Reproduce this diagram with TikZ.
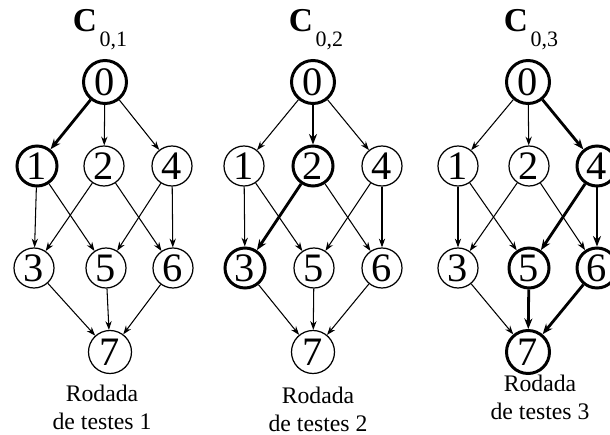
\documentclass[tikz,border=0pt]{standalone}
\usepackage{fontspec}
\setmainfont{Liberation Serif}
\usetikzlibrary{arrows.meta}

\begin{document}
\begin{tikzpicture}[
		vertice/.style={draw, circle, line width=0.7pt, inner sep=0pt, minimum size=0.8cm, font=\fontsize{23}{23}\selectfont},
		grande/.style={minimum size=0.86cm},
		marcado/.style={line width=1.7pt},
		aresta/.style={line width=0.6pt, -{Stealth[length=5pt, width=3.6pt]}},
		caminho/.style={line width=1.6pt, -{Stealth[length=6pt, width=4.6pt]}},
		titulo/.style={anchor=base, inner sep=0pt},
		rotulo/.style={anchor=north, inner sep=0pt, align=center, font=\fontsize{13.5}{15.5}\selectfont}]
		\clip (0,0) rectangle (12.2,8.68);
		% Rodada de testes 1
		\node[titulo] (ta) at (2.00,8.05) {\fontsize{19}{19}\selectfont\bfseries C\kern1.5pt\raisebox{-8.5pt}{\fontsize{12.5}{12.5}\mdseries 0,1}};
		\node[vertice, grande, marcado] (a0) at (2.10,7.04) {0};
		\node[vertice, marcado] (a1) at (0.74,5.36) {1};
		\node[vertice] (a2) at (2.08,5.36) {2};
		\node[vertice] (a4) at (3.44,5.36) {4};
		\node[vertice] (a3) at (0.68,3.32) {3};
		\node[vertice] (a5) at (2.12,3.32) {5};
		\node[vertice] (a6) at (3.46,3.32) {6};
		\node[vertice, grande] (a7) at (2.20,1.64) {7};
		\draw[caminho] (a0) -- (a1);
		\draw[aresta] (a0) -- (a2);
		\draw[aresta] (a0) -- (a4);
		\draw[aresta] (a1) -- (a3);
		\draw[aresta] (a1) -- (a5);
		\draw[aresta] (a2) -- (a3);
		\draw[aresta] (a2) -- (a6);
		\draw[aresta] (a4) -- (a5);
		\draw[aresta] (a4) -- (a6);
		\draw[aresta] (a3) -- (a7);
		\draw[aresta] (a5) -- (a7);
		\draw[aresta] (a6) -- (a7);
		\node[rotulo] (ra) at (2.04,0.98) {Rodada\\de testes 1};
		% Rodada de testes 2
		\node[titulo] (tb) at (6.32,8.05) {\fontsize{19}{19}\selectfont\bfseries C\kern1.5pt\raisebox{-8.5pt}{\fontsize{12.5}{12.5}\mdseries 0,2}};
		\node[vertice, grande, marcado] (b0) at (6.26,7.04) {0};
		\node[vertice] (b1) at (4.88,5.36) {1};
		\node[vertice, marcado] (b2) at (6.26,5.36) {2};
		\node[vertice] (b4) at (7.64,5.36) {4};
		\node[vertice, marcado] (b3) at (4.90,3.32) {3};
		\node[vertice] (b5) at (6.28,3.32) {5};
		\node[vertice] (b6) at (7.64,3.32) {6};
		\node[vertice, grande] (b7) at (6.26,1.64) {7};
		\draw[aresta] (b0) -- (b1);
		\draw[caminho] (b0) -- (b2);
		\draw[aresta] (b0) -- (b4);
		\draw[aresta] (b1) -- (b3);
		\draw[aresta] (b1) -- (b5);
		\draw[caminho] (b2) -- (b3);
		\draw[aresta] (b2) -- (b6);
		\draw[aresta] (b4) -- (b5);
		\draw[aresta] (b4) -- (b6);
		\draw[aresta] (b3) -- (b7);
		\draw[aresta] (b5) -- (b7);
		\draw[aresta] (b6) -- (b7);
		\node[rotulo] (rb) at (6.36,0.94) {Rodada\\de testes 2};
		% Rodada de testes 3
		\node[titulo] (tc) at (10.62,8.05) {\fontsize{19}{19}\selectfont\bfseries C\kern1.5pt\raisebox{-8.5pt}{\fontsize{12.5}{12.5}\mdseries 0,3}};
		\node[vertice, grande, marcado] (c0) at (10.56,7.04) {0};
		\node[vertice] (c1) at (9.16,5.36) {1};
		\node[vertice] (c2) at (10.58,5.36) {2};
		\node[vertice, marcado] (c4) at (11.94,5.36) {4};
		\node[vertice] (c3) at (9.16,3.32) {3};
		\node[vertice, marcado] (c5) at (10.58,3.32) {5};
		\node[vertice, marcado] (c6) at (11.94,3.32) {6};
		\node[vertice, grande, marcado] (c7) at (10.56,1.64) {7};
		\draw[aresta] (c0) -- (c1);
		\draw[aresta] (c0) -- (c2);
		\draw[caminho] (c0) -- (c4);
		\draw[aresta] (c1) -- (c3);
		\draw[aresta] (c1) -- (c5);
		\draw[aresta] (c2) -- (c3);
		\draw[aresta] (c2) -- (c6);
		\draw[caminho] (c4) -- (c5);
		\draw[caminho] (c4) -- (c6);
		\draw[aresta] (c3) -- (c7);
		\draw[caminho] (c5) -- (c7);
		\draw[caminho] (c6) -- (c7);
		\node[rotulo] (rc) at (10.80,1.18) {Rodada\\de testes 3};
	\end{tikzpicture}
\end{document}
